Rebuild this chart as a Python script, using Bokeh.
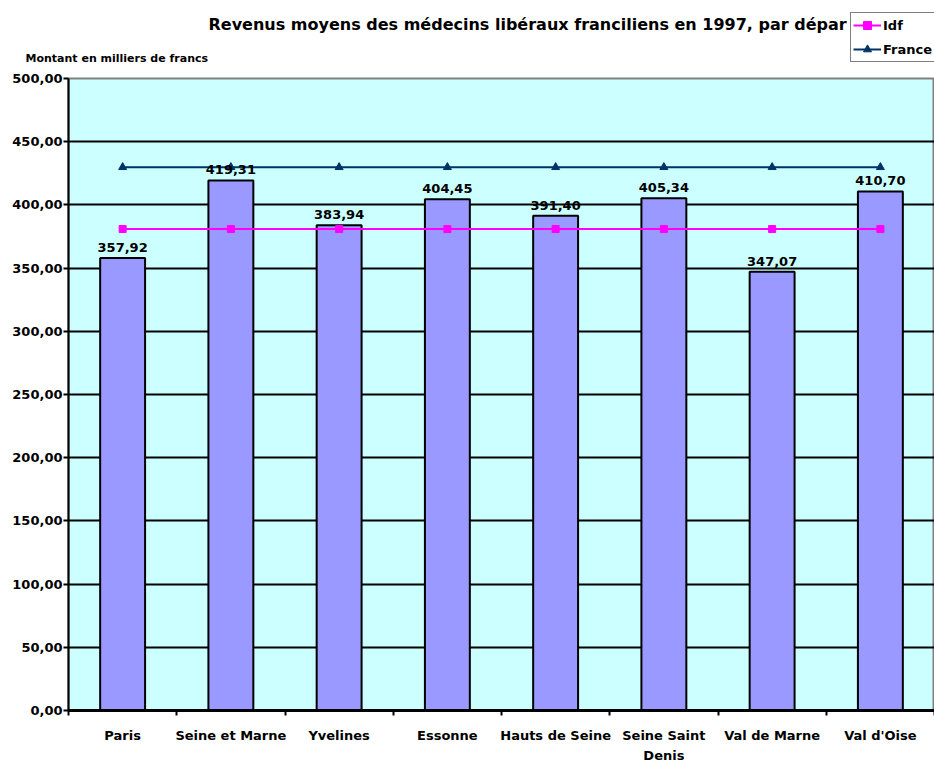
from bokeh.plotting import figure
from bokeh.layouts import column
from bokeh.models import ColumnDataSource, FixedTicker, Legend, LegendItem, Range1d, Label
from bokeh.core.properties import value
from bokeh.embed import file_html
from bokeh.resources import INLINE

categories = ["Paris", "Seine et Marne", "Yvelines", "Essonne", "Hauts de Seine",
              "Seine Saint\nDenis", "Val de Marne", "Val d'Oise"]
revenus = [357.92, 419.31, 383.94, 404.45, 391.40, 405.34, 347.07, 410.70]
idf = [380.9, 380.9, 380.9, 380.9, 380.9, 380.9, 380.9, 380.9]
france = [429.8, 429.8, 429.8, 429.8, 429.8, 429.8, 429.8, 429.8]
y_ticks = [0, 50, 100, 150, 200, 250, 300, 350, 400, 450, 500]
y_tick_labels = ["0,00", "50,00", "100,00", "150,00", "200,00", "250,00",
                 "300,00", "350,00", "400,00", "450,00", "500,00"]
series_names = ["Idf", "France"]
title_text = "Revenus moyens des médecins libéraux franciliens en 1997, par dépar"
unit_text = "Montant en milliers de francs"

FONT = "DejaVu Sans"
IDF_COLOR = "#FF00FF"
FR_COLOR = "#003366"

xs = [i + 0.5 for i in range(len(categories))]
labels = [f"{v:.2f}".replace(".", ",") for v in revenus]
src = ColumnDataSource(dict(x=xs, top=revenus, lab=labels, idf=idf, france=france))

# ---------- header strip (title, unit, legend) ----------
TOP_H = 66
head = figure(width=934, height=TOP_H, output_backend="svg", toolbar_location=None,
              x_range=Range1d(0, 934), y_range=Range1d(0, TOP_H),
              x_axis_type=None, y_axis_type=None, title=None,
              min_border_left=0, min_border_right=0, min_border_top=0, min_border_bottom=0)
head.frame_align = False
head.grid.visible = False
head.outline_line_color = None
head.background_fill_color = "white"
head.border_fill_color = "white"

head.add_layout(Label(x=208, y=TOP_H - 24, x_units="screen", y_units="screen",
                      text=title_text, text_font=FONT, text_font_style="bold",
                      text_font_size="16px", text_color="black", text_baseline="middle"))
head.add_layout(Label(x=25, y=TOP_H - 58, x_units="screen", y_units="screen",
                      text=unit_text, text_font=FONT, text_font_style="bold",
                      text_font_size="11px", text_color="black", text_baseline="middle"))

# legend proxies: same series, they fall outside this strip's range so only the legend shows
h_idf_l = head.line(x="x", y="idf", source=src, line_color=IDF_COLOR, line_width=2)
h_idf_m = head.scatter(x="x", y="idf", source=src, marker="square", size=8,
                       fill_color=IDF_COLOR, line_color=IDF_COLOR)
h_fr_l = head.line(x="x", y="france", source=src, line_color=FR_COLOR, line_width=2)
h_fr_m = head.scatter(x="x", y="france", source=src, marker="triangle", size=9,
                      fill_color=FR_COLOR, line_color=FR_COLOR)
legend = Legend(items=[LegendItem(label=series_names[0], renderers=[h_idf_l, h_idf_m]),
                       LegendItem(label=series_names[1], renderers=[h_fr_l, h_fr_m])],
                location=(850, TOP_H - 62), border_line_color="black", border_line_width=1,
                background_fill_color="white", background_fill_alpha=1,
                label_text_font=FONT, label_text_font_style="bold",
                label_text_color="black",
                label_text_font_size="13px", glyph_width=28, glyph_height=20,
                label_standoff=2, spacing=4, padding=2, margin=0, label_height=20)
head.add_layout(legend)

# ---------- main chart ----------
p = figure(width=934, height=765 - TOP_H, output_backend="svg", toolbar_location=None,
           x_range=Range1d(0, 8), y_range=Range1d(0, 500), title=None,
           min_border_left=68, min_border_right=0, min_border_top=12, min_border_bottom=53)
p.frame_align = False
p.background_fill_color = "#CCFFFF"
p.border_fill_color = "white"
p.outline_line_color = "#808080"
p.outline_line_width = 2

p.xgrid.grid_line_color = None
p.ygrid.ticker = FixedTicker(ticks=y_ticks)
p.ygrid.grid_line_color = "black"
p.ygrid.grid_line_width = 2

p.yaxis.ticker = FixedTicker(ticks=y_ticks)
p.yaxis.major_label_overrides = {t: l for t, l in zip(y_ticks, y_tick_labels)}
p.yaxis.axis_line_width = 2
p.yaxis.axis_line_color = "black"
p.yaxis.major_tick_line_width = 2
p.yaxis.major_tick_in = 0
p.yaxis.major_tick_out = 5
p.yaxis.minor_tick_line_color = None
p.yaxis.major_label_standoff = 1
p.yaxis.major_label_text_font = FONT
p.yaxis.major_label_text_font_style = "bold"
p.yaxis.major_label_text_font_size = "13px"
p.yaxis.major_label_text_color = "black"

p.xaxis.ticker = FixedTicker(ticks=xs, minor_ticks=list(range(0, 9)))
p.xaxis.major_label_overrides = {x: c for x, c in zip(xs, categories)}
p.xaxis.axis_line_width = 3
p.xaxis.axis_line_color = "black"
p.xaxis.major_tick_line_color = None
p.xaxis.major_tick_out = 5
p.xaxis.major_tick_in = 0
p.xaxis.minor_tick_line_color = "black"
p.xaxis.minor_tick_line_width = 2
p.xaxis.minor_tick_in = 0
p.xaxis.minor_tick_out = 5
p.xaxis.major_label_standoff = 12
p.xaxis.major_label_text_font = FONT
p.xaxis.major_label_text_font_style = "bold"
p.xaxis.major_label_text_font_size = "13px"
p.xaxis.major_label_text_line_height = 1.35
p.xaxis.major_label_text_color = "black"

p.vbar(x="x", top="top", width=0.415, source=src, fill_color="#9999FF",
       line_color="black", line_width=2)

p.line(x="x", y="idf", source=src, line_color=IDF_COLOR, line_width=2)
p.scatter(x="x", y="idf", source=src, marker="square", size=7,
          fill_color=IDF_COLOR, line_color=IDF_COLOR)
p.line(x="x", y="france", source=src, line_color=FR_COLOR, line_width=2)
p.scatter(x="x", y="france", source=src, marker="triangle", size=8,
          fill_color=FR_COLOR, line_color=FR_COLOR)

p.text(x="x", y="top", text="lab", source=src, text_align="center",
       text_baseline="bottom", y_offset=-6, text_font=value(FONT),
       text_font_style="bold", text_font_size="13px", text_color="black")

layout = column(head, p, spacing=0)
open("out.html", "w").write(file_html(layout, INLINE))
